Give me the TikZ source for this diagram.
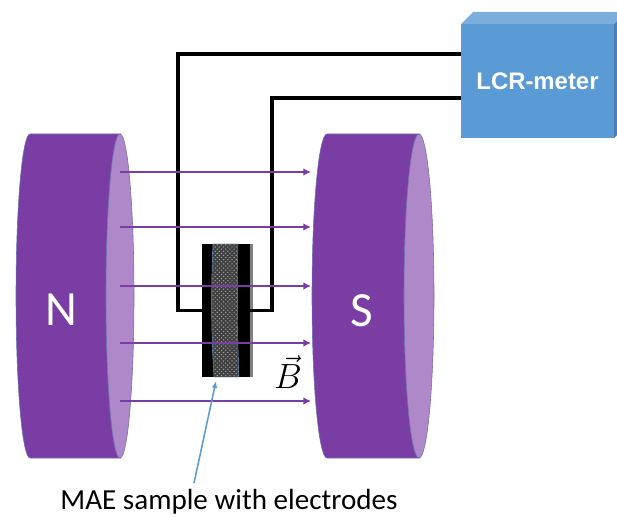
\documentclass[tikz,border=0pt]{standalone}
\usepackage{fontspec}
\setmainfont{Carlito}
\newfontfamily\meterfont{Liberation Sans}
\usepackage{amsmath}
\usetikzlibrary{arrows.meta,patterns}
\definecolor{magnetbody}{HTML}{7A3DA3}
\definecolor{magnetface}{HTML}{AE88C9}
\definecolor{magnetedge}{HTML}{6C6FB0}
\definecolor{meterfront}{HTML}{5B9BD5}
\definecolor{metertop}{HTML}{7CAEDD}
\definecolor{meterside}{HTML}{4A7FB0}
\tikzset{
  magnet/.style={draw=magnetedge,line width=0.4pt,fill=magnetbody},
  pole/.style={font=\fontsize{35}{40}\selectfont,white},
  wire/.style={line width=2.2pt,black,line join=miter},
  fieldline/.style={line width=1.5pt,magnetbody,-{Latex[length=5.5pt,width=5.5pt]}},
  leader/.style={line width=1.1pt,meterfront,-{Latex[length=5pt,width=4pt]}}
}
\begin{document}
\begin{tikzpicture}[x=0.025cm,y=-0.025cm]
  \useasboundingbox (0,0) rectangle (617,517);
  % --- left: north pole
  \draw[magnet] (30,134) arc[start angle=270,end angle=90,x radius=14,y radius=162]
    -- (120,458) arc[start angle=90,end angle=270,x radius=14,y radius=162] -- cycle;
  \draw[magnet,fill=magnetface] (120,296) ellipse [x radius=14,y radius=162];
  \node[pole] (north) at (61,310) {N};
  % --- right: south pole
  \draw[magnet] (327,134) arc[start angle=270,end angle=90,x radius=15,y radius=162]
    -- (419,458) arc[start angle=90,end angle=270,x radius=15,y radius=162] -- cycle;
  \draw[magnet,fill=magnetface] (419,296) ellipse [x radius=15,y radius=162];
  \node[pole] (south) at (362,311) {S};
  % --- meter box
  \fill[metertop] (461,24) -- (473,12) -- (617,12) -- (617,21) -- (614,24) -- cycle;
  \fill[meterside] (614,24) -- (617,21) -- (617,135) -- (614,138) -- cycle;
  \node[fill=meterfront,inner sep=0pt,minimum width=3.825cm,minimum height=2.85cm,
    text=white,font=\meterfont\bfseries\fontsize{17}{20}\selectfont] (meter) at (537.5,81) {LCR-meter};
  \coordinate (portout) at (461,54);
  \coordinate (portin) at (461,98);
  % --- sample with electrodes
  \fill[gray] (240,244) -- (253,244) -- (253,377) -- (240,377) -- cycle;
  \node[fill=black,inner sep=0pt,minimum width=1.2cm,minimum height=3.325cm] (sample) at (226,310.5) {};
  \fill[black!75] (213,244) .. controls (211,290) and (211,330) .. (214,377)
    -- (239,377) .. controls (237,330) and (237,290) .. (238,244) -- cycle;
  \draw[pattern=crosshatch dots,pattern color=gray!70,draw=meterfront,line width=0.3pt]
    (213,244) .. controls (211,290) and (211,330) .. (214,377)
    -- (239,377) .. controls (237,330) and (237,290) .. (238,244) -- cycle;
  \draw[wire] (portout) -- (178,54) |- (sample.west);
  \draw[wire] (portin) -- (272,98) |- (sample.east);
  % --- field lines
  \foreach \k/\ypos in {a/172,b/227,c/286,d/343,e/401}{
    \coordinate (from\k) at (120,\ypos);
    \coordinate (to\k) at (311,\ypos);
    \draw[fieldline] (from\k) -- (to\k);}
  \node[font=\fontsize{24}{28}\selectfont] (field) at (288,372) {$\vec{B}$};
  % --- label
  \node[font=\fontsize{20.7}{24}\selectfont] (caption) at (229,502) {MAE sample with electrodes};
  \coordinate (leaderstart) at (194,483);
  \coordinate (leaderend) at (216,381);
  \draw[leader] (leaderstart) -- (leaderend);
\end{tikzpicture}
\end{document}
